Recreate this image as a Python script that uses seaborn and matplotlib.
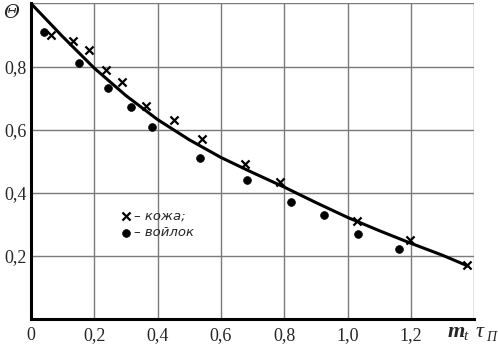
import numpy as np
import pandas as pd
import matplotlib
matplotlib.use('Agg')
import matplotlib.pyplot as plt
import seaborn as sns

# кривая
curve_x = [0.0, 0.1, 0.2, 0.3, 0.4, 0.5, 0.6, 0.7, 0.8, 0.9, 1.0, 1.1, 1.2, 1.3, 1.38]
curve_y = [1.0, 0.895, 0.795, 0.708, 0.632, 0.568, 0.512, 0.464, 0.418, 0.369, 0.322, 0.280, 0.240, 0.202, 0.168]

# кожа
koja_x = [0.063, 0.134, 0.184, 0.236, 0.286, 0.364, 0.451, 0.539, 0.675, 0.786, 1.03, 1.198, 1.377]
koja_y = [0.899, 0.880, 0.852, 0.790, 0.752, 0.676, 0.632, 0.570, 0.492, 0.435, 0.311, 0.251, 0.170]

# войлок
voilok_x = [0.040, 0.151, 0.242, 0.315, 0.382, 0.533, 0.683, 0.822, 0.924, 1.033, 1.164]
voilok_y = [0.911, 0.812, 0.732, 0.672, 0.610, 0.511, 0.441, 0.371, 0.330, 0.270, 0.221]

x_ticks = [0, 0.2, 0.4, 0.6, 0.8, 1.0, 1.2]
x_labels = ['0', '0,2', '0,4', '0,6', '0,8', '1,0', '1,2']
y_ticks = [0.2, 0.4, 0.6, 0.8]
y_labels = ['0,2', '0,4', '0,6', '0,8']


def main():
    sns.set_style('white')
    plt.rcParams['font.family'] = ['Liberation Serif', 'DejaVu Serif']

    fig = plt.figure(figsize=(4.98, 3.46), dpi=100)
    ax = fig.add_axes([0.0622, 0.078, 0.890, 0.912])

    sns.lineplot(x=curve_x, y=curve_y, ax=ax, color='black', linewidth=2.2)
    sns.scatterplot(x=koja_x, y=koja_y, ax=ax, marker='x', color='black', s=34,
                    linewidth=1.6, label='– кожа;')
    sns.scatterplot(x=voilok_x, y=voilok_y, ax=ax, marker='o', color='black', s=32,
                    edgecolor='black', label='– войлок')

    ax.set_xlim(0, 1.4)
    ax.set_ylim(0, 1.0)
    ax.set_xticks(x_ticks)
    ax.set_xticklabels(x_labels, family='Liberation Serif')
    ax.set_yticks(y_ticks)
    ax.set_yticklabels(y_labels, family='Liberation Serif')
    ax.set_xticks([1.4], minor=True)
    ax.set_yticks([1.0], minor=True)
    ax.grid(True, which='both', color='#7a7a7a', linewidth=1.0)
    ax.tick_params(axis='both', which='both', length=0, labelsize=13, pad=6)
    ax.tick_params(axis='y', pad=3)

    for side in ['top', 'right']:
        ax.spines[side].set_visible(False)
    for side in ['left', 'bottom']:
        ax.spines[side].set_linewidth(2.2)
        ax.spines[side].set_color('black')

    ax.legend(loc='upper left', bbox_to_anchor=(0.172, 0.385), frameon=False,
              handletextpad=0.15, handlelength=1.0, labelspacing=0.3,
              prop={'family': 'DejaVu Sans', 'style': 'italic', 'size': 9.5})

    fig.text(0.006, 0.948, 'Θ', fontsize=14, style='italic', family='DejaVu Serif')
    fig.text(0.898, 0.026, 'm', fontsize=16, style='italic', weight='bold')
    fig.text(0.93, 0.016, 't', fontsize=11, style='italic')
    fig.text(0.955, 0.026, 'τ', fontsize=16, style='italic')
    fig.text(0.977, 0.014, 'П', fontsize=10, style='italic')

    fig.savefig('out.png', dpi=100)


if __name__ == '__main__':
    main()
